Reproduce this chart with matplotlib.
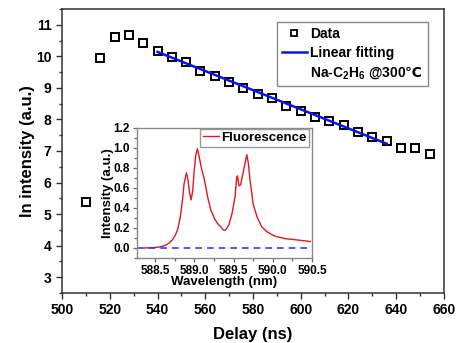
import numpy as np
import matplotlib
matplotlib.use("Agg")
import matplotlib.pyplot as plt
from matplotlib.lines import Line2D
from matplotlib.ticker import MultipleLocator

plt.rcParams["font.family"] = ["Liberation Sans", "DejaVu Sans"]
plt.rcParams["font.weight"] = "bold"
plt.rcParams["mathtext.fontset"] = "custom"
plt.rcParams["mathtext.rm"] = "Liberation Sans:bold"
plt.rcParams["mathtext.it"] = "Liberation Sans:bold"
plt.rcParams["mathtext.bf"] = "Liberation Sans:bold"
plt.rcParams["mathtext.sf"] = "DejaVu Sans"
plt.rcParams["mathtext.default"] = "rm"

# --- decay data (delay in ns, ln intensity) ---
delay = [510, 516, 522, 528, 534, 540, 546, 552, 558, 564, 570, 576, 582,
         588, 594, 600, 606, 612, 618, 624, 630, 636, 642, 648, 654]
ln_int = [5.37, 9.94, 10.62, 10.66, 10.42, 10.18, 9.99, 9.82, 9.55, 9.38,
          9.19, 9.01, 8.81, 8.67, 8.41, 8.28, 8.07, 7.94, 7.81, 7.61, 7.45,
          7.31, 7.09, 7.09, 6.90]

# linear fit endpoints
fit_x = [540, 636]
fit_y = [10.14, 7.23]

# --- fluorescence spectrum (inset) ---
wl = [588.36, 588.42, 588.48, 588.54, 588.60, 588.64, 588.68, 588.72,
      588.76, 588.79, 588.82, 588.85, 588.87, 588.90, 588.92, 588.94,
      588.96, 588.98, 589.00, 589.02, 589.04, 589.06, 589.09, 589.13,
      589.17, 589.21, 589.26, 589.30, 589.34, 589.37, 589.39, 589.41,
      589.44, 589.48, 589.52, 589.54, 589.55, 589.57, 589.59, 589.62,
      589.65, 589.67, 589.69, 589.71, 589.75, 589.80, 589.86, 589.93,
      590.03, 590.16, 590.29, 590.40, 590.48]
fluo = [0.000, 0.002, 0.004, 0.008, 0.018, 0.030, 0.050, 0.080,
        0.13, 0.19, 0.30, 0.48, 0.64, 0.75, 0.68, 0.55,
        0.48, 0.57, 0.78, 0.93, 0.99, 0.92, 0.80, 0.68,
        0.51, 0.38, 0.29, 0.24, 0.21, 0.18, 0.175, 0.19,
        0.23, 0.34, 0.51, 0.70, 0.72, 0.62, 0.63, 0.74,
        0.86, 0.93, 0.84, 0.68, 0.44, 0.31, 0.21, 0.16,
        0.117, 0.093, 0.082, 0.072, 0.065]

fig = plt.figure(figsize=(4.58, 3.43), dpi=100)
ax = fig.add_axes([0.1354, 0.1458, 0.834, 0.828])

ax.plot(delay, ln_int, "s", mfc="none", mec="black", ms=6.2, mew=1.4,
        linestyle="none", label="Data")
ax.plot(fit_x, fit_y, "-", color="#0a14e6", lw=1.8, label="Linear fitting")

ax.set_xlim(500, 660)
ax.set_ylim(2.5, 11.5)
ax.xaxis.set_major_locator(MultipleLocator(20))
ax.xaxis.set_minor_locator(MultipleLocator(10))
ax.yaxis.set_major_locator(MultipleLocator(1))
ax.yaxis.set_minor_locator(MultipleLocator(0.5))
ax.tick_params(which="both", direction="out", colors="#333333",
               labelcolor="black", labelsize=10)
ax.tick_params(which="major", length=4, width=1)
ax.tick_params(which="minor", length=2.5, width=1)
for sp in ax.spines.values():
    sp.set_color("#333333")
    sp.set_linewidth(1.1)
ax.set_xlabel("Delay (ns)", fontsize=12, fontweight="bold", labelpad=7)
ax.set_ylabel("ln intensity (a.u.)", fontsize=12, fontweight="bold", labelpad=1)

handles = [
    Line2D([], [], marker="s", mfc="none", mec="black", ms=5, mew=1.3, ls="none"),
    Line2D([], [], color="#0a14e6", lw=1.8),
    Line2D([], [], ls="none"),
]
labels = ["Data", "Linear fitting", "Na-C$_2$H$_6$ @300$\\mathsf{\u2103}$"]
leg = ax.legend(handles, labels, loc="upper right", bbox_to_anchor=(0.958, 0.954),
                borderaxespad=0, fancybox=False, framealpha=1, edgecolor="#888888",
                handlelength=1.8, handletextpad=0.25, labelspacing=0.35,
                borderpad=0.35, prop={"size": 10, "weight": "bold"})
leg.get_frame().set_linewidth(1.0)

# --- inset ---
ins = fig.add_axes([0.2991, 0.2478, 0.3821, 0.3799])
ins.plot(wl, fluo, "-", color="#e8141e", lw=1.0, label="Fluorescence")
ins.axhline(0, color="#3a3aff", lw=1.2, ls=(0, (4, 3)))
ins.set_xlim(588.27, 590.5)
ins.set_ylim(-0.1, 1.2)
ins.xaxis.set_major_locator(MultipleLocator(0.5))
ins.xaxis.set_minor_locator(MultipleLocator(0.25))
ins.yaxis.set_major_locator(MultipleLocator(0.2))
ins.yaxis.set_minor_locator(MultipleLocator(0.1))
ins.xaxis.set_major_formatter(plt.FormatStrFormatter("%.1f"))
ins.yaxis.set_major_formatter(plt.FormatStrFormatter("%.1f"))
ins.tick_params(which="both", direction="out", colors="#666666",
                labelcolor="black", labelsize=8.5, pad=2)
ins.tick_params(which="major", length=3, width=0.9)
ins.tick_params(which="minor", length=2, width=0.9)
for sp in ins.spines.values():
    sp.set_color("#888888")
    sp.set_linewidth(1.0)
ins.set_xlabel("Wavelength (nm)", fontsize=9.5, fontweight="bold", labelpad=-1)
ins.set_ylabel("Intensity (a.u.)", fontsize=9.5, fontweight="bold", labelpad=0)
ileg = ins.legend(loc="upper right", bbox_to_anchor=(0.985, 0.99), borderaxespad=0,
                  fancybox=False, framealpha=1, edgecolor="#999999",
                  handlelength=1.2, handletextpad=0.2, borderpad=0.2,
                  prop={"size": 9.5, "weight": "bold"})

fig.savefig("out.png", dpi=100)
